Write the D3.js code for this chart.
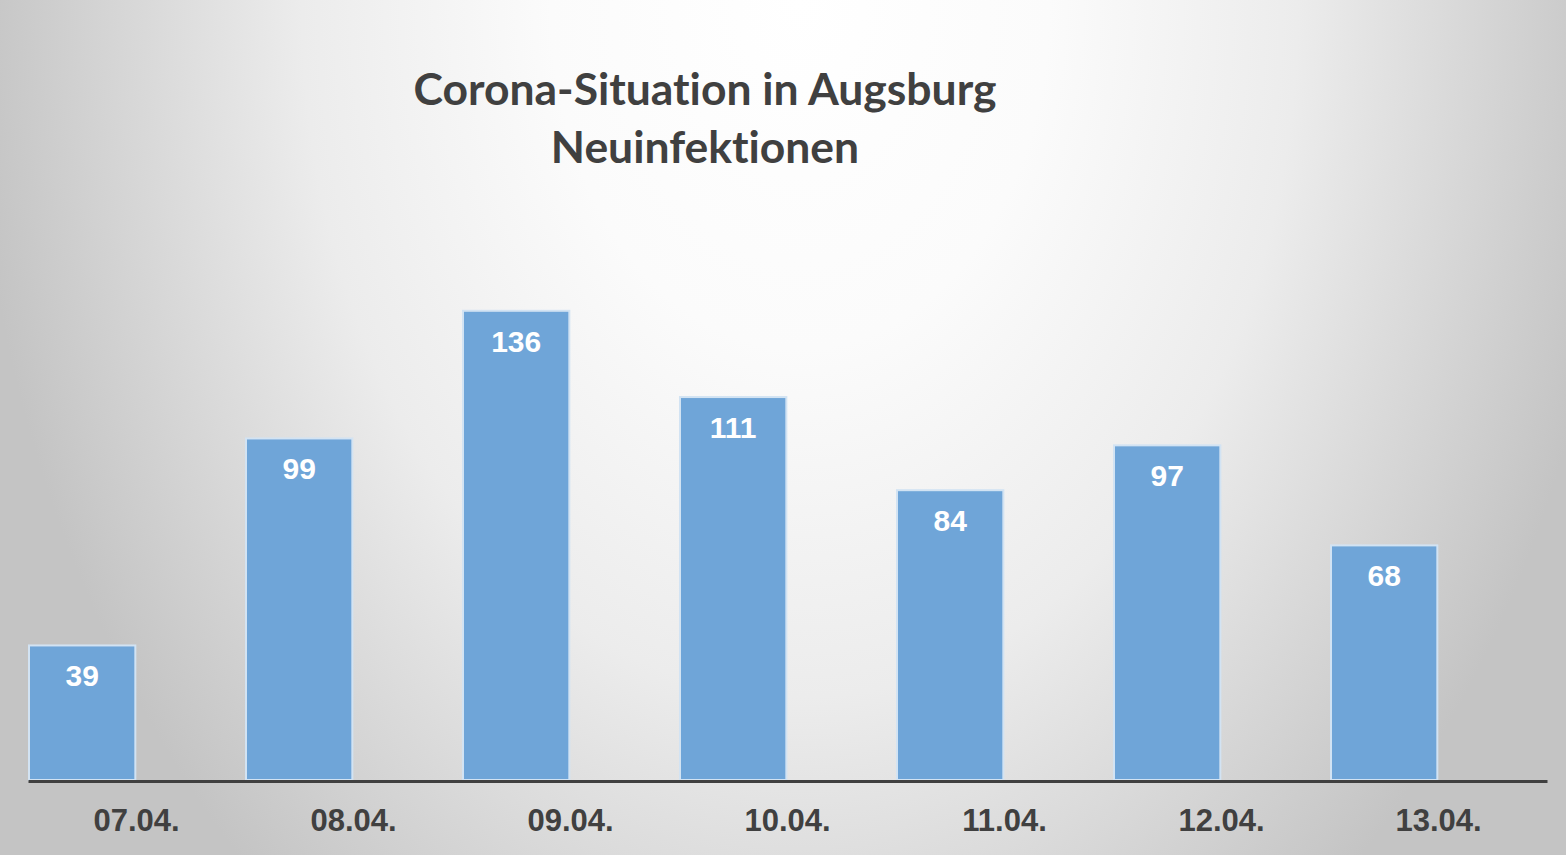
<!DOCTYPE html>
<html>
<head>
<meta charset="utf-8">
<script src="https://cdn.jsdelivr.net/npm/d3@7"></script>
<style>
    html, body { margin: 0; padding: 0; overflow: hidden; }
    svg { display: block; }
</style>
</head>
<body>
<svg id="chart"></svg>
<script>
const days = ["07.04.", "08.04.", "09.04.", "10.04.", "11.04.", "12.04.", "13.04."];
const newInfections = [39, 99, 136, 111, 84, 97, 68];
const titleLines = ["Corona-Situation in Augsburg", "Neuinfektionen"];

const width = 1566;
const height = 855;

const svg = d3.select("#chart").attr("width", width).attr("height", height);

// background: radial grey gradient, light at the top centre
const defs = svg.append("defs");
const bg = defs
    .append("radialGradient")
    .attr("id", "bg")
    .attr("gradientUnits", "userSpaceOnUse")
    .attr("cx", 800)
    .attr("cy", 0)
    .attr("r", 830)
    .attr("gradientTransform", "translate(800,0) scale(1,1.4) translate(-800,0)");

[
    [0, "#ffffff"],
    [0.3, "#fbfbfb"],
    [0.6, "#ececec"],
    [0.8, "#d8d8d8"],
    [1, "#c4c4c4"],
].forEach(([o, c]) => bg.append("stop").attr("offset", o).attr("stop-color", c));

svg.append("rect")
    .attr("width", width)
    .attr("height", height)
    .attr("fill", "url(#bg)");

const xScale = d3.scaleBand().domain(days).range([28, 1547]).padding(0);
const yScale = d3.scaleLinear().domain([0, 160]).range([780, 228]);

const barWidth = xScale.bandwidth() * 0.49;

const data = days.map((d, i) => ({ day: d, value: newInfections[i] }));

// bars sit at the left of each band, the day label is in the band centre
svg.selectAll(".bar")
    .data(data)
    .enter()
    .append("rect")
    .attr("class", "bar")
    .attr("x", (d) => xScale(d.day) + 1)
    .attr("y", (d) => yScale(d.value))
    .attr("width", barWidth)
    .attr("height", (d) => yScale(0) - yScale(d.value))
    .attr("fill", "#6fa5d8")
    .attr("stroke", "#d2e3f3")
    .attr("stroke-width", 2);

svg.selectAll(".value")
    .data(data)
    .enter()
    .append("text")
    .attr("class", "value")
    .attr("x", (d) => xScale(d.day) + 1 + barWidth / 2)
    .attr("y", (d) => yScale(d.value) + 41)
    .attr("text-anchor", "middle")
    .style("font-family", "'Liberation Sans', Arial, sans-serif")
    .style("font-weight", "bold")
    .style("font-size", "30px")
    .style("fill", "#ffffff")
    .text((d) => d.value);

// axis
const axis = svg
    .append("g")
    .attr("transform", `translate(0, ${yScale(0) + 1})`)
    .call(d3.axisBottom(xScale).tickSize(0).tickPadding(0));

axis.select(".domain").attr("stroke", "#404040").attr("stroke-width", 3);

axis.selectAll(".tick text")
    .attr("dy", 0)
    .attr("y", 50)
    .style("font-family", "'Liberation Sans', Arial, sans-serif")
    .style("font-weight", "bold")
    .style("font-size", "31px")
    .style("fill", "#404040");

// title, fitted to the width of the original
const title = svg
    .append("text")
    .attr("text-anchor", "middle")
    .style("font-family", "Lato, 'Open Sans', sans-serif")
    .style("font-weight", "bold")
    .style("font-variant-ligatures", "none")
    .style("font-size", "44px")
    .style("fill", "#404040");

title.selectAll("tspan")
    .data(titleLines)
    .enter()
    .append("tspan")
    .attr("x", 705)
    .attr("y", (d, i) => 105 + i * 58)
    .text((d) => d);

const firstLine = title.select("tspan").node().getComputedTextLength();
title.style("font-size", `${(44 * 583) / firstLine}px`);
</script>
</body>
</html>
